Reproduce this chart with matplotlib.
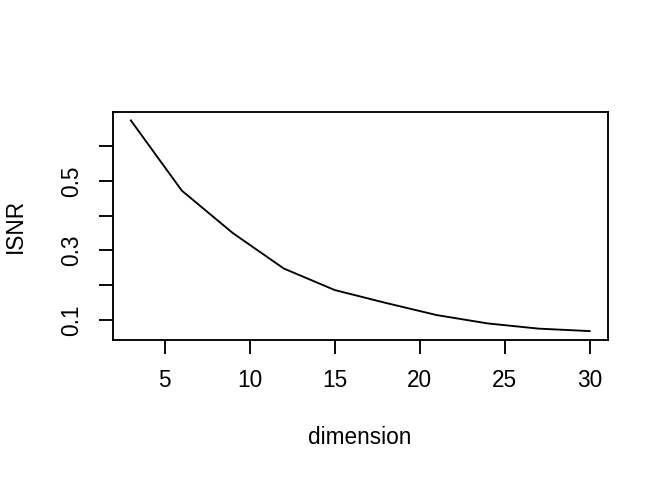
import matplotlib
matplotlib.use("Agg")
import matplotlib.pyplot as plt

dimension = [3, 6, 9, 12, 15, 18, 21, 24, 27, 30]
isnr = [0.674, 0.472, 0.350, 0.248, 0.186, 0.149, 0.114, 0.090, 0.075, 0.068]
xticks = [5, 10, 15, 20, 25, 30]
yticks = [0.1, 0.2, 0.3, 0.4, 0.5, 0.6]
yticklabels = ["0.1", "", "0.3", "", "0.5", ""]

plt.rcParams['font.family'] = ['Liberation Sans', 'DejaVu Sans']
fs = 16.3
lw = 1.35

fig = plt.figure(figsize=(6.64, 4.80), dpi=100)
ax = fig.add_axes([112.5/664, (480-339.5)/480, (608-112.5)/664, (339.5-112)/480])
ax.plot(dimension, isnr, color='black', linewidth=lw)

xmin, xmax = min(dimension), max(dimension)
ymin, ymax = min(isnr), max(isnr)
dx = (xmax - xmin) * 0.04
dy = (ymax - ymin) * 0.04
ax.set_xlim(xmin - dx, xmax + dx)
ax.set_ylim(ymin - dy, ymax + dy)

ax.set_xticks(xticks)
ax.set_xticklabels([str(t) for t in xticks], fontsize=fs)
ax.set_yticks(yticks)
ax.set_yticklabels(yticklabels, fontsize=fs, rotation=90, va='center')
ax.tick_params(axis='x', direction='out', length=9.8, width=lw, color='black', pad=11.5)
ax.tick_params(axis='y', direction='out', length=9.8, width=lw, color='black', pad=11)
for s in ax.spines.values():
    s.set_linewidth(lw)
    s.set_color('black')

fig.text(359.5/664, (480-437)/480, "dimension", fontsize=fs, ha='center', va='center')
fig.text(15/664, (480-225.75)/480, "ISNR", fontsize=fs, rotation=90, ha='center', va='center')

fig.savefig("out.png", dpi=100)
